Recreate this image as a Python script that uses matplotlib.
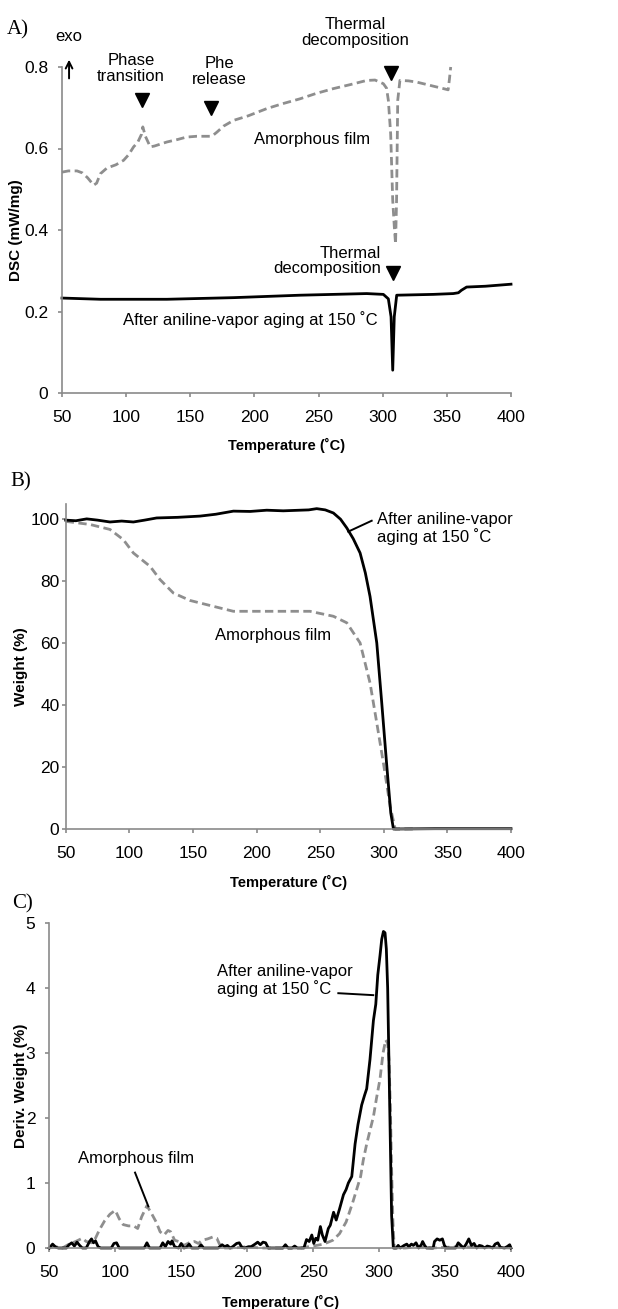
import matplotlib
matplotlib.use("Agg")
import matplotlib.pyplot as plt
from matplotlib import font_manager

# ---------------- data ----------------
x_ticks = [50, 100, 150, 200, 250, 300, 350, 400]
x_tick_labels = ["50", "100", "150", "200", "250", "300", "350", "400"]

# Panel A: DSC
dsc_ticks = [0, 0.2, 0.4, 0.6, 0.8]
dsc_tick_labels = ["0", "0.2", "0.4", "0.6", "0.8"]
dsc_amorph_x = [50, 55, 61.7, 66, 70, 74.7, 77, 79.9, 85, 92, 98, 102, 105.8, 109, 112, 113, 115, 118.8, 122,
                131.8, 140, 147, 155, 165.5, 168, 170.7, 176, 183.7, 195, 209.7, 222, 235.6, 248, 261.6, 275,
                287.5, 294, 300.5, 303, 304.4, 306.2, 307.8, 309, 310, 310.8, 311.7, 313.4, 320, 326.4, 333,
                339.4, 346, 351, 352, 353]
dsc_amorph_y = [0.542, 0.545, 0.545, 0.540, 0.528, 0.51, 0.515, 0.538, 0.552, 0.560, 0.571, 0.585, 0.604, 0.615,
                0.635, 0.653, 0.630, 0.604, 0.606, 0.616, 0.622, 0.628, 0.630, 0.630, 0.633, 0.640, 0.655, 0.669,
                0.680, 0.698, 0.710, 0.722, 0.735, 0.747, 0.757, 0.767, 0.768, 0.759, 0.748, 0.718, 0.636, 0.473,
                0.41, 0.366, 0.473, 0.718, 0.767, 0.766, 0.763, 0.758, 0.753, 0.748, 0.744, 0.77, 0.80]
dsc_aged_x = [50, 80, 131.8, 183.7, 235.6, 287.5, 300.5, 304.4, 306.5, 307.8, 309, 310.9, 339.4, 355, 359,
              361.3, 365.4, 380, 400]
dsc_aged_y = [0.233, 0.230, 0.230, 0.234, 0.240, 0.244, 0.242, 0.231, 0.187, 0.056, 0.187, 0.240, 0.242,
              0.244, 0.246, 0.252, 0.260, 0.262, 0.267]

# Panel B: TGA
wt_ticks = [0, 20, 40, 60, 80, 100]
wt_tick_labels = ["0", "20", "40", "60", "80", "100"]
wt_aged_x = [50, 58, 66.5, 75, 84.8, 94, 103.2, 112, 121.5, 138, 155.6, 168, 181.8, 195, 208, 221, 234.2,
             241, 247.3, 254, 260.4, 266, 270.9, 276, 281.4, 285.5, 289.2, 294.5, 298.4, 302.4, 305.5, 307.6,
             340, 400]
wt_aged_y = [99.6, 99.4, 100, 99.6, 99, 99.3, 99, 99.6, 100.3, 100.5, 100.9, 101.5, 102.5, 102.4, 102.8,
             102.6, 102.8, 102.9, 103.3, 102.9, 101.9, 99.9, 97.1, 93.6, 89, 82.6, 75, 60, 40.7, 20.2, 5.2,
             0, 0.1, 0.1]
wt_amorph_x = [50, 69.1, 84.8, 95.3, 103.2, 116.3, 124.2, 134.6, 147.7, 166.1, 181.8, 208, 242, 260.4,
               270.9, 281.4, 289.2, 294.5, 299.7, 305, 309, 323.4]
wt_amorph_y = [99.2, 98.2, 96.6, 93.3, 89, 84.7, 80.4, 76.1, 73.7, 71.8, 70.2, 70.2, 70.2, 68.6, 66.5,
               60, 47.1, 34.2, 21.3, 7.3, 0, 0]

# Panel C: DTG
dtg_ticks = [0, 1, 2, 3, 4, 5]
dtg_tick_labels = ["0", "1", "2", "3", "4", "5"]
dtg_aged_x = [50, 52.5, 55, 57, 63, 65, 67, 69, 71, 73, 75, 78, 80.5, 82, 83.5, 85, 87, 89, 97, 99, 101, 103,
              122, 124, 126, 134, 136, 138, 140, 142, 143, 145, 148, 150, 152, 154, 156, 158, 163, 165, 167,
              178, 181, 183, 185, 187, 189, 192, 194, 196, 198, 201, 203, 206, 208, 210, 212, 214, 216, 227,
              229, 231, 234, 236, 238, 243, 245, 247, 249, 250.5, 252, 253.5, 255.5, 257, 259, 261.5, 263,
              265.5, 267.5, 270, 273, 275, 276.7, 279.3, 281.8, 284, 286.8, 289, 290.6, 293.1, 295.7, 297.5,
              299, 300.7, 302, 303.3, 304.5, 305.5, 306.5, 307.5, 308.5, 309.5, 310.8, 313, 314.5, 316, 319,
              321, 322.5, 324.5, 326, 328, 330, 332, 333, 334.5, 336, 341, 342, 344, 346, 348, 349.5, 351,
              358, 360, 362, 364, 366, 368, 370, 372, 374, 376, 378, 380, 382, 384, 386, 388, 390, 392, 395,
              397, 399, 400]
dtg_aged_y = [0, 0.06, 0.01, 0, 0, 0.05, 0.08, 0.03, 0.09, 0.04, 0.0, 0, 0.1, 0.14, 0.08, 0.11, 0.02, 0, 0,
              0.07, 0.08, 0, 0, 0.08, 0, 0, 0.08, 0.02, 0.1, 0.06, 0.11, 0.02, 0, 0.07, 0, 0.01, 0.06, 0, 0,
              0.05, 0, 0, 0.05, 0.02, 0.04, 0, 0.02, 0.07, 0.08, 0.01, 0, 0.02, 0.02, 0.06, 0.09, 0.05, 0.09,
              0.08, 0, 0, 0.05, 0, 0, 0.03, 0, 0, 0.13, 0.1, 0.2, 0.07, 0.15, 0.12, 0.33, 0.2, 0.1, 0.3,
              0.35, 0.55, 0.43, 0.6, 0.82, 0.9, 1.0, 1.1, 1.6, 1.9, 2.2, 2.35, 2.45, 2.9, 3.5, 3.75, 4.2,
              4.5, 4.75, 4.87, 4.85, 4.6, 4.0, 2.8, 1.5, 0.5, 0, 0, 0.04, 0, 0.04, 0.06, 0.02, 0.06, 0.04,
              0.08, 0.0, 0.05, 0.1, 0.04, 0, 0, 0.1, 0.14, 0.12, 0.14, 0.04, 0, 0, 0.08, 0.04, 0.0, 0.06,
              0.14, 0.04, 0.07, 0.0, 0.04, 0.03, 0.0, 0.03, 0.02, 0, 0.06, 0.08, 0.01, 0, 0.02, 0.05, 0]
dtg_amorph_x = [50, 55, 60, 65, 70, 75, 78, 82, 85, 88, 92, 96, 100, 103, 106, 110, 114, 117, 120, 124, 127,
                131, 134, 137, 140, 142, 145, 148, 152, 156, 160, 163, 166, 170, 174, 177, 179, 182, 190, 200,
                210, 240, 250, 258, 265, 270, 275, 280, 283, 286, 288, 290.6, 293, 295.7, 298, 300.7, 303,
                305, 306.5, 307.5, 308.5, 309.5, 310.5, 311.5, 320, 330, 340, 360, 400]
dtg_amorph_y = [0, 0.02, 0.0, 0.06, 0.1, 0.15, 0.1, 0.08, 0.15, 0.28, 0.42, 0.52, 0.58, 0.45, 0.36, 0.34,
                0.34, 0.3, 0.48, 0.65, 0.55, 0.4, 0.25, 0.2, 0.27, 0.25, 0.12, 0.1, 0.04, 0.08, 0.1, 0.07,
                0.12, 0.14, 0.17, 0.15, 0.06, 0.0, 0, 0.02, 0, 0, 0.03, 0.06, 0.12, 0.22, 0.4, 0.7, 0.9, 1.1,
                1.35, 1.6, 1.8, 2.02, 2.3, 2.6, 3.0, 3.2, 3.15, 2.9, 2.2, 1.2, 0.4, 0, 0, 0.02, 0, 0.02, 0]

# ---------------- style ----------------
installed = {f.name for f in font_manager.fontManager.ttflist}
NARROW = "Liberation Sans Narrow" if "Liberation Sans Narrow" in installed else "Liberation Sans"
SANS = ["Liberation Sans", "DejaVu Sans"]
SERIF = ["Liberation Serif", "DejaVu Serif"]
plt.rcParams["font.family"] = SANS

GREY = "#8e8e8e"
SPINE = "#8a8a8a"
W, H = 618, 1309
fig = plt.figure(figsize=(W / 100, H / 100), dpi=100)


def px_axes(left, right, top, bottom):
    return fig.add_axes([left / W, 1 - bottom / H, (right - left) / W, (bottom - top) / H])


def style(ax, yticks, ylabels, ylim, ylabel, ypad):
    ax.set_xlim(50, 400)
    ax.set_ylim(*ylim)
    for s in ("top", "right"):
        ax.spines[s].set_visible(False)
    for s in ("left", "bottom"):
        ax.spines[s].set_color(SPINE)
        ax.spines[s].set_linewidth(1.2)
    ax.set_xticks(x_ticks)
    ax.set_xticklabels(x_tick_labels, fontfamily=NARROW, fontsize=12.5)
    ax.set_yticks(yticks)
    ax.set_yticklabels(ylabels, fontfamily=NARROW, fontsize=12.5)
    ax.tick_params(axis="both", direction="out", length=3, width=1.2, color=SPINE)
    ax.tick_params(axis="x", pad=9)
    ax.tick_params(axis="y", pad=ypad)
    ax.set_xlabel("Temperature (˚C)", fontsize=10.5, fontweight="bold")
    ax.set_ylabel(ylabel, fontsize=11, fontweight="bold")


dash = dict(color=GREY, lw=2.0, linestyle=(0, (3, 1.6)), dash_capstyle="butt", clip_on=False)
solid = dict(color="black", lw=2.0, clip_on=False)
TXT = 12

# ---------------- Panel A ----------------
axA = px_axes(62, 511, 67, 393)
axA.plot(dsc_amorph_x, dsc_amorph_y, **dash)
axA.plot(dsc_aged_x, dsc_aged_y, **solid)
style(axA, dsc_ticks, dsc_tick_labels, (0, 0.8), "DSC (mW/mg)", 7)
axA.yaxis.set_label_coords(-0.087, 0.5)
axA.xaxis.set_label_coords(0.5, -0.138)
for tx, ty in [(112.1, 0.719), (166.2, 0.699), (306.2, 0.785), (307.8, 0.294)]:
    axA.plot([tx], [ty], marker="v", color="black", markersize=10.5, clip_on=False, linestyle="none")
axA.text(55.5, 0.874, "exo", fontsize=TXT, ha="center", va="center")
axA.annotate("", xy=(55.5, 0.818), xytext=(55.5, 0.772), annotation_clip=False,
             arrowprops=dict(arrowstyle="->", lw=1.4, color="black", shrinkA=0, shrinkB=0, mutation_scale=12))
axA.text(103.8, 0.797, "Phase\ntransition", fontsize=TXT, ha="center", va="center", linespacing=1.05)
axA.text(172.6, 0.789, "Phe\nrelease", fontsize=TXT, ha="center", va="center", linespacing=1.05)
axA.text(278.4, 0.885, "Thermal\ndecomposition", fontsize=TXT, ha="center", va="center", linespacing=1.05)
axA.text(298.5, 0.324, "Thermal\ndecomposition", fontsize=TXT, ha="right", va="center",
         multialignment="right", linespacing=1.05)
axA.text(244.6, 0.621, "Amorphous film", fontsize=TXT, ha="center", va="center")
axA.text(197.1, 0.181, "After aniline-vapor aging at 150 ˚C", fontsize=TXT, ha="center", va="center")

# ---------------- Panel B ----------------
axB = px_axes(65.7, 511, 504, 829)
axB.plot(wt_amorph_x, wt_amorph_y, **dash)
axB.plot(wt_aged_x, wt_aged_y, **solid)
style(axB, wt_ticks, wt_tick_labels, (0, 104.8), "Weight (%)", 1.5)
axB.yaxis.set_label_coords(-0.085, 0.5)
axB.xaxis.set_label_coords(0.5, -0.142)
axB.text(294.4, 96.8, "After aniline-vapor\naging at 150 ˚C", fontsize=TXT, ha="left", va="center",
         linespacing=1.05)
axB.plot([290.5, 272.1], [99.4, 95.9], color="black", lw=1.4)
axB.text(213.2, 62.3, "Amorphous film", fontsize=TXT, ha="center", va="center")

# ---------------- Panel C ----------------
axC = px_axes(49.3, 511, 923, 1248)
axC.plot(dtg_amorph_x, dtg_amorph_y, **dash)
axC.plot(dtg_aged_x, dtg_aged_y, **solid)
style(axC, dtg_ticks, dtg_tick_labels, (0, 5), "Deriv. Weight (%)", 7)
axC.yaxis.set_label_coords(-0.046, 0.5)
axC.xaxis.set_label_coords(0.5, -0.145)
axC.text(176.9, 4.12, "After aniline-vapor\naging at 150 ˚C", fontsize=TXT, ha="left", va="center",
         linespacing=1.05)
axC.plot([269.1, 295.6], [3.92, 3.89], color="black", lw=1.4)
axC.text(115.7, 1.38, "Amorphous film", fontsize=TXT, ha="center", va="center")
axC.plot([115, 125.1], [1.16, 0.64], color="black", lw=1.4)

# panel letters
for lab, lx, ly in [("A)", 7, 34), ("B)", 10, 486), ("C)", 12, 908)]:
    fig.text(lx / W, 1 - ly / H, lab, fontsize=15, family=SERIF, ha="left", va="baseline")

fig.savefig("out.png", dpi=100)
